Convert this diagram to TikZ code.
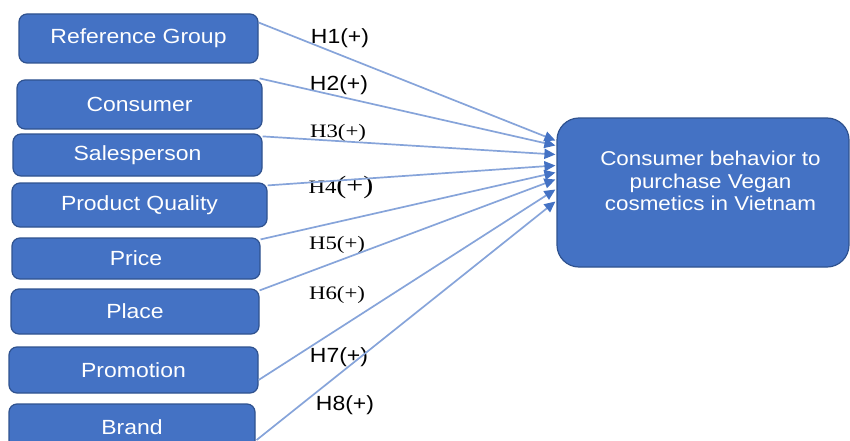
\documentclass[tikz,border=0pt]{standalone}
\usepackage{fontspec}
\setmainfont[FakeStretch=1.12]{Liberation Sans}
\newfontfamily\serifH[FakeStretch=1.2]{Liberation Serif}
\usetikzlibrary{arrows.meta,calc}
\definecolor{boxblue}{HTML}{4472C4}
\definecolor{boxedge}{HTML}{2F528F}
\definecolor{linkblue}{HTML}{86A4DA}
\begin{document}
\begin{tikzpicture}[x=1pt,y=-1pt,
  factor/.style={draw=boxedge, line width=1.2pt, fill=boxblue, rounded corners=8pt,
    inner sep=0pt, text=white, font=\fontsize{20.5}{24}\selectfont},
  outcome/.style={factor, rounded corners=22pt, font=\fontsize{20}{22.5}\selectfont},
  link/.style={draw=linkblue, line width=1.7pt, -{Triangle[length=11pt,width=10pt,color=boxblue]}},
  hyp/.style={font=\fontsize{20.5}{24}\selectfont, inner sep=0pt},
  hyps/.style={font=\serifH\fontsize{19}{24}\selectfont, inner sep=0pt}]
\useasboundingbox[fill=white] (0,0) rectangle (850,441);

% factor boxes
\node[factor, minimum width=239pt, minimum height=49pt] (rg)    at (138.5,38.5) {Reference Group};
\node[factor, minimum width=245pt, minimum height=49pt] (cons)  at (139.5,104.5) {Consumer};
\node[factor, minimum width=249pt, minimum height=42pt] (sales) at (137.5,155) {Salesperson};
\node[factor, minimum width=255pt, minimum height=44pt] (pq)    at (139.5,205) {Product Quality};
\node[factor, minimum width=248pt, minimum height=41pt] (price) at (136,258.5) {Price};
\node[factor, minimum width=248pt, minimum height=45pt] (place) at (135,311.5) {Place};
\node[factor, minimum width=249pt, minimum height=46pt] (promo) at (133.5,370) {Promotion};
\node[factor, minimum width=246pt, minimum height=46pt] (brand) at (132,427) {Brand};

% outcome box
\node[outcome, minimum width=292pt, minimum height=149pt] (tgt) at (703,192.5)
  {\hspace*{15pt}\raisebox{9pt}[\height][\depth]{\begin{tabular}{@{}c@{}}Consumer behavior to\\purchase Vegan\\cosmetics in Vietnam\end{tabular}}};

% hypothesis labels
\node[hyp]  (h1) at (340,38)  {H1(+)};
\node[hyp]  (h2) at (339,85)  {H2(+)};
\node[hyps] (h3) at (338,133) {H3(+)};
\node[hyps] (h4) at (341,187) {H4{\fontsize{25}{28}\selectfont(+)}};
\node[hyps] (h5) at (337,245) {H5(+)};
\node[hyps] (h6) at (337,295) {H6(+)};
\node[hyp]  (h7) at (339,357) {H7(+)};
\node[hyp]  (h8) at (345,405) {H8(+)};

% connectors
\draw[link] ($(rg.east)+(0,-16)$)         -- ($(tgt.west)+(-1,-52)$);
\draw[link] ($(cons.north east)+(-3,-1)$) -- ($(tgt.west)+(-1,-47)$);
\draw[link] ($(sales.north east)+(0,3)$)  -- ($(tgt.west)+(-1,-38)$);
\draw[link] ($(pq.north east)+(0,3)$)     -- ($(tgt.west)+(-1,-27)$);
\draw[link] ($(price.north east)+(0,2)$)  -- ($(tgt.west)+(-1,-20)$);
\draw[link] ($(place.north east)+(0,2)$)  -- ($(tgt.west)+(-1,-13)$);
\draw[link] ($(promo.east)+(0,10)$)       -- ($(tgt.west)+(-1,-3)$);
\draw[link] ($(brand.east)+(1,13)$)       -- ($(tgt.west)+(-1,9)$);
\end{tikzpicture}
\end{document}
